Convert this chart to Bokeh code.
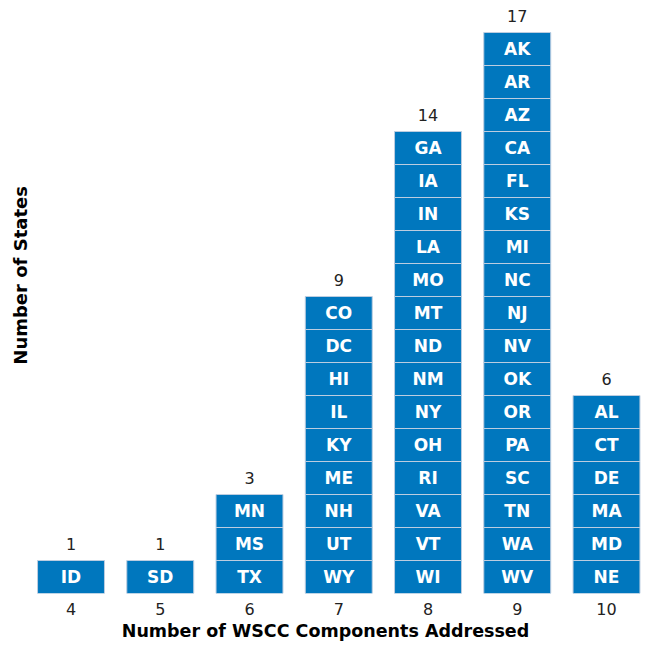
import math
from bokeh.plotting import figure
from bokeh.models import ColumnDataSource, FixedTicker, Label
from bokeh.core.properties import value
from bokeh.embed import file_html
from bokeh.resources import INLINE

components = [4, 5, 6, 7, 8, 9, 10]
states_4 = ["ID"]
states_5 = ["SD"]
states_6 = ["MN", "MS", "TX"]
states_7 = ["CO", "DC", "HI", "IL", "KY", "ME", "NH", "UT", "WY"]
states_8 = ["GA", "IA", "IN", "LA", "MO", "MT", "ND", "NM", "NY", "OH", "RI", "VA", "VT", "WI"]
states_9 = ["AK", "AR", "AZ", "CA", "FL", "KS", "MI", "NC", "NJ", "NV", "OK", "OR", "PA", "SC", "TN", "WA", "WV"]
states_10 = ["AL", "CT", "DE", "MA", "MD", "NE"]
groups = [states_4, states_5, states_6, states_7, states_8, states_9, states_10]

cx, cy, names = [], [], []
for comp, sts in zip(components, groups):
    n = len(sts)
    for i, s in enumerate(sts):
        cx.append(comp)
        cy.append(n - i - 0.5)
        names.append(s)
cells = ColumnDataSource(dict(x=cx, y=cy, name=names))
counts = [len(g) for g in groups]
tops = ColumnDataSource(dict(x=components, y=[c + 0.5 for c in counts], label=[str(c) for c in counts]))

p = figure(width=650, height=650, output_backend="svg", toolbar_location=None,
           x_range=(3.21, 10.493), y_range=(0, 17.97),
           min_border_left=0, min_border_right=0, min_border_top=0, min_border_bottom=57)
p.outline_line_color = None
p.grid.visible = False
p.yaxis.visible = False
p.background_fill_color = "white"

p.rect(x="x", y="y", width=0.75, height=1, source=cells,
       fill_color="#0077be", line_color="#bccde0", line_width=1)
p.text(x="x", y="y", text="name", source=cells, text_color="white",
       text_font=value("DejaVu Sans"), text_font_style="bold", text_font_size="17px",
       text_align="center", text_baseline="middle")
p.text(x="x", y="y", text="label", source=tops, text_color="#222222",
       text_font=value("DejaVu Sans"), text_font_size="16px",
       text_align="center", text_baseline="middle")

xa = p.xaxis[0]
xa.ticker = FixedTicker(ticks=components)
xa.axis_line_color = None
xa.major_tick_line_color = None
xa.minor_tick_line_color = None
xa.major_label_text_font = "DejaVu Sans"
xa.major_label_text_font_size = "16px"
xa.major_label_text_color = "#222222"
xa.major_label_standoff = 3
xa.axis_label = "Number of WSCC Components Addressed"
xa.axis_label_text_font = "DejaVu Sans"
xa.axis_label_text_font_style = "bold"
xa.axis_label_text_font_size = "17.5px"
xa.axis_label_text_color = "black"
xa.axis_label_standoff = 3

p.add_layout(Label(x=3.434, y=9.64, text="Number of States", angle=math.pi / 2,
                   text_font="DejaVu Sans", text_font_style="bold", text_font_size="18px",
                   text_color="black", text_align="center", text_baseline="middle"))

open("out.html", "w").write(file_html(p, INLINE))
